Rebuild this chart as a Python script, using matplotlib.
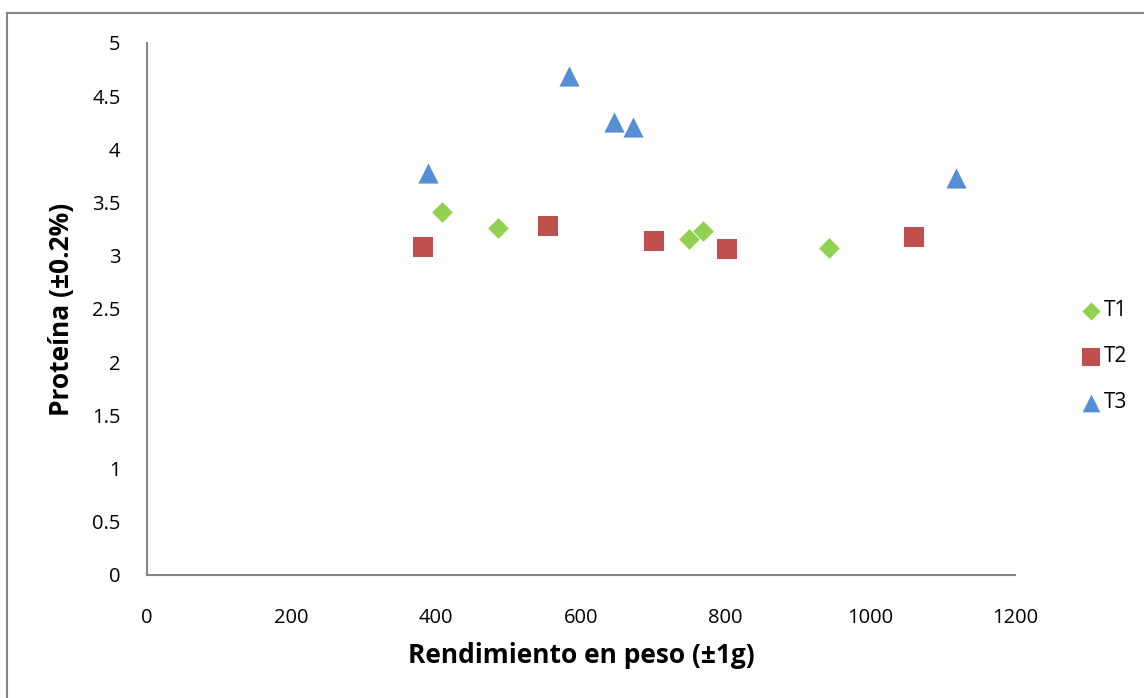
import matplotlib
matplotlib.use('Agg')
import matplotlib.pyplot as plt
from matplotlib.lines import Line2D

plt.rcParams['font.family'] = ['Open Sans', 'DejaVu Sans']

# Rendimiento (g) vs proteina (%)
t1_x = [408, 485, 749, 768, 943]
t1_y = [3.41, 3.26, 3.16, 3.23, 3.07]
t2_x = [382, 555, 701, 802, 1060]
t2_y = [3.08, 3.28, 3.14, 3.06, 3.18]
t3_x = [388, 583, 645, 672, 1118]
t3_y = [3.78, 4.69, 4.26, 4.21, 3.73]

x_ticks = [0, 200, 400, 600, 800, 1000, 1200]
y_ticks = [0, 0.5, 1, 1.5, 2, 2.5, 3, 3.5, 4, 4.5, 5]
y_tick_labels = ['0', '0.5', '1', '1.5', '2', '2.5', '3', '3.5', '4', '4.5', '5']

fig = plt.figure(figsize=(11.44, 6.98), dpi=100)
ax = fig.add_axes([147 / 1144, 1 - 575 / 698, 868 / 1144, 532 / 698])

ax.scatter(t1_x, t1_y, marker='D', s=10.5 ** 2, color='#92D050', linewidths=0, label='T1', zorder=3)
ax.scatter(t2_x, t2_y, marker='s', s=14.5 ** 2, color='#C0504D', linewidths=0, label='T2', zorder=3)
ax.scatter(t3_x, t3_y, marker='^', s=14.5 ** 2, color='#558ED5', linewidths=0, label='T3', zorder=3)

ax.set_xlim(0, 1200)
ax.set_ylim(0, 5)
ax.set_xticks(x_ticks)
ax.set_xticklabels([str(v) for v in x_ticks])
ax.set_yticks(y_ticks)
ax.set_yticklabels(y_tick_labels)
ax.tick_params(axis='both', length=0, labelsize=14.5)
ax.tick_params(axis='x', pad=24)
ax.tick_params(axis='y', pad=19)

for side in ['top', 'right']:
    ax.spines[side].set_visible(False)
for side in ['left', 'bottom']:
    ax.spines[side].set_color('#868686')
    ax.spines[side].set_linewidth(1.5)

ax.set_xlabel('Rendimiento en peso (±1g)', fontsize=19, fontweight='bold', labelpad=10)
ax.set_ylabel('Proteína (±0.2%)', fontsize=19, fontweight='bold', labelpad=12)

leg = fig.legend(loc='center left', bbox_to_anchor=(1062 / 1144, 1 - 357 / 698),
                 frameon=False, fontsize=15, handletextpad=0.1, labelspacing=1.2,
                 handlelength=1.0, markerscale=0.88)

# chart area border (top and left only visible)
fig.add_artist(Line2D([7 / 1144, 1], [1 - 13 / 698, 1 - 13 / 698], transform=fig.transFigure,
                      color='#868686', linewidth=1.5))
fig.add_artist(Line2D([7 / 1144, 7 / 1144], [0, 1 - 13 / 698], transform=fig.transFigure,
                      color='#868686', linewidth=1.5))

fig.savefig('out.png', dpi=100)
